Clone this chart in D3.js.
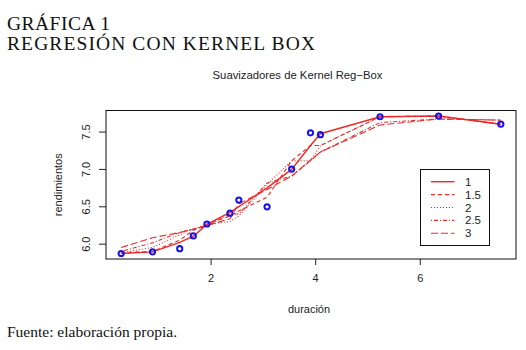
<!DOCTYPE html>
<html>
<head>
<meta charset="utf-8">
<script src="https://cdn.jsdelivr.net/npm/d3@7/dist/d3.min.js"></script>
<style>
  html, body { margin: 0; padding: 0; background: #fff; }
  svg { display: block; }
  .sans { font-family: "Liberation Sans", Arial, sans-serif; fill: #222; }
  .serif { font-family: "Liberation Serif", "Times New Roman", serif; fill: #111; }
</style>
</head>
<body>
<script>
// Observed data: duración (x) and rendimientos (y)
const duracion = [0.29, 0.89, 1.41, 1.67, 1.93, 2.37, 2.54, 3.08, 3.55, 3.91, 4.10, 5.24, 6.36, 7.55];
const rendimientos = [5.875, 5.897, 5.94, 6.11, 6.27, 6.415, 6.59, 6.50, 7.005, 7.49, 7.465, 7.705, 7.715, 7.605];

// Box-kernel smoother fits at each duración, one array per bandwidth
const bandwidths = ["1", "1.5", "2", "2.5", "3"];
const fitBw1   = [5.875, 5.897, 6.025, 6.107, 6.265, 6.425, 6.503, 6.753, 7.000, 7.320, 7.478, 7.705, 7.715, 7.605];
const fitBw1_5 = [5.886, 5.904, 6.054, 6.184, 6.265, 6.377, 6.444, 6.628, 7.115, 7.320, 7.320, 7.705, 7.715, 7.605];
const fitBw2   = [5.886, 5.956, 6.126, 6.204, 6.265, 6.304, 6.377, 6.800, 7.115, 7.115, 7.320, 7.705, 7.715, 7.605];
const fitBw2_5 = [5.904, 6.018, 6.157, 6.204, 6.246, 6.404, 6.404, 6.819, 6.911, 7.115, 7.233, 7.628, 7.675, 7.660];
const fitBw3   = [5.956, 6.085, 6.157, 6.200, 6.246, 6.341, 6.540, 6.731, 6.911, 7.126, 7.233, 7.594, 7.675, 7.660];
const fits = [fitBw1, fitBw1_5, fitBw2, fitBw2_5, fitBw3];

const xTicks = [2, 4, 6];
const yTicks = [6.0, 6.5, 7.0, 7.5];

// R-style line types: solid, dashed, dotted, dotdash, longdash
const dashes = [null, "4,3", "1,2", "1,2,4,2", "7,3"];
const curveColor = "#ec2a2a";

const W = 526, H = 350;
const plot = { left: 106, right: 516, top: 110.5, bottom: 259 };

const svg = d3.select("body").append("svg")
  .attr("width", W).attr("height", H);

// Document heading and source note
svg.append("text").attr("class", "serif")
  .attr("x", 7).attr("y", 30).attr("font-size", 19.5)
  .attr("textLength", 103).attr("lengthAdjust", "spacing")
  .text("GRÁFICA 1");
svg.append("text").attr("class", "serif")
  .attr("x", 7).attr("y", 50).attr("font-size", 19.5)
  .attr("textLength", 308).attr("lengthAdjust", "spacing")
  .text("REGRESIÓN CON KERNEL BOX");
svg.append("text").attr("class", "serif")
  .attr("x", 7).attr("y", 336.5).attr("font-size", 15.5)
  .text("Fuente: elaboración propia.");

// Scales padded 4% beyond the data range
function padded(ext) {
  const d = (ext[1] - ext[0]) * 0.04;
  return [ext[0] - d, ext[1] + d];
}
const x = d3.scaleLinear().domain(padded(d3.extent(duracion))).range([plot.left, plot.right]);
const y = d3.scaleLinear().domain(padded(d3.extent(rendimientos))).range([plot.bottom, plot.top]);

// Chart title
svg.append("text").attr("class", "sans")
  .attr("x", 297.5).attr("y", 79).attr("font-size", 11.3)
  .attr("text-anchor", "middle")
  .text("Suavizadores de Kernel Reg\u2212Box");

// Axes
const xAxis = d3.axisBottom(x).tickValues(xTicks).tickSize(6).tickPadding(9)
  .tickFormat(d3.format("d"));
const gx = svg.append("g").attr("transform", `translate(0,${plot.bottom})`).call(xAxis);
gx.select(".domain").remove();
gx.selectAll("line").attr("stroke", "#222");
gx.selectAll("text").attr("class", "sans").attr("font-size", 11).attr("fill", "#222");

const yAxis = d3.axisLeft(y).tickValues(yTicks).tickSize(7).tickPadding(0)
  .tickFormat(d3.format(".1f"));
const gy = svg.append("g").attr("transform", `translate(${plot.left},0)`).call(yAxis);
gy.select(".domain").remove();
gy.selectAll("line").attr("stroke", "#222");
gy.selectAll("text").attr("class", "sans").attr("font-size", 11).attr("fill", "#222")
  .attr("x", 0).attr("dy", null).attr("text-anchor", "middle")
  .attr("transform", d => `translate(-20.5,${y(d)}) rotate(-90)`)
  .attr("y", 4);
// rotated labels carry their own vertical offset
gy.selectAll(".tick").attr("transform", null);
gy.selectAll(".tick line").attr("transform", d => `translate(0,${y(d)})`);

// Axis titles
svg.append("text").attr("class", "sans")
  .attr("x", 309).attr("y", 313).attr("font-size", 11)
  .attr("text-anchor", "middle").text("duración");
svg.append("text").attr("class", "sans")
  .attr("transform", `translate(62,${(plot.top + plot.bottom) / 2}) rotate(-90)`)
  .attr("font-size", 11).attr("text-anchor", "middle").text("rendimientos");

// Smoothed curves
const line = d3.line().x((d, i) => x(duracion[i])).y(d => y(d));
fits.forEach((f, k) => {
  svg.append("path")
    .attr("d", line(f))
    .attr("fill", "none")
    .attr("stroke", curveColor)
    .attr("stroke-width", k === 0 ? 1.4 : 1.1)
    .attr("stroke-dasharray", dashes[k]);
});

// Observed points
svg.append("g").selectAll("circle")
  .data(duracion)
  .join("circle")
  .attr("cx", d => x(d))
  .attr("cy", (d, i) => y(rendimientos[i]))
  .attr("r", 2.6)
  .attr("fill", "none")
  .attr("stroke", "#1414e6")
  .attr("stroke-width", 2);

// Plot frame
svg.append("rect")
  .attr("x", plot.left).attr("y", plot.top)
  .attr("width", plot.right - plot.left).attr("height", plot.bottom - plot.top)
  .attr("fill", "none").attr("stroke", "#111").attr("stroke-width", 1);

// Legend
const lg = { left: 420.5, top: 169.5, width: 69, height: 76 };
svg.append("rect")
  .attr("x", lg.left).attr("y", lg.top).attr("width", lg.width).attr("height", lg.height)
  .attr("fill", "#fff").attr("stroke", "#111").attr("stroke-width", 1);
const rows = d3.scalePoint().domain(bandwidths).range([181.7, 233.3]);
bandwidths.forEach((b, k) => {
  const yy = rows(b);
  svg.append("line")
    .attr("x1", 431).attr("x2", 454.5).attr("y1", yy).attr("y2", yy)
    .attr("stroke", curveColor).attr("stroke-width", k === 0 ? 1.4 : 1.1)
    .attr("stroke-dasharray", dashes[k]);
  svg.append("text").attr("class", "sans")
    .attr("x", 465).attr("y", yy + 4).attr("font-size", 11.5)
    .text(b);
});
</script>
</body>
</html>
